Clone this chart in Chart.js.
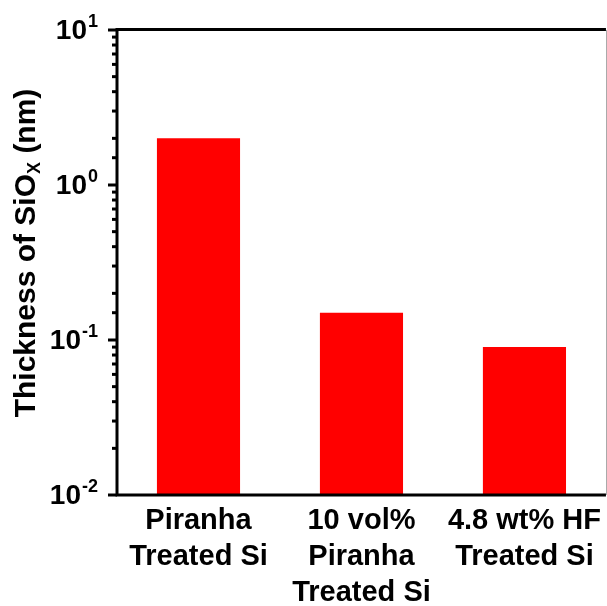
<!DOCTYPE html>
<html>
<head>
<meta charset="utf-8">
<script src="https://cdn.jsdelivr.net/npm/chart.js@4/dist/chart.umd.min.js"></script>
<style>
  body { margin: 0; background: #fff; overflow: hidden; }
  #wrap { width: 609px; height: 606px; position: relative; }
</style>
</head>
<body>
<div id="wrap"><canvas id="graf_oxido"></canvas></div>
<script>
// dados
const categorias = [
  ['Piranha', 'Treated Si'],
  ['10 vol%', 'Piranha', 'Treated Si'],
  ['4.8 wt% HF', 'Treated Si']
]
const espessuras = [2.0, 0.15, 0.09]
const ticks_maiores = [0.01, 0.1, 1, 10]
const expoentes = ['-2', '-1', '0', '1']
const titulo_y = ['Thickness of SiO', 'X', ' (nm)']

const FONTE = "'Liberation Sans', Arial, sans-serif"

// eixos, ticks e titulo desenhados a mao
const eixosPlugin = {
  id: 'eixos',
  afterDraw(chart) {
    const ctx = chart.ctx
    const a = chart.chartArea
    const sy = chart.scales.y
    ctx.save()
    ctx.strokeStyle = '#000'
    ctx.lineWidth = 3
    ctx.lineCap = 'butt'
    ctx.beginPath()
    ctx.moveTo(a.left, a.top - 0.5)
    ctx.lineTo(a.left, a.bottom)
    ctx.moveTo(a.left - 1.5, a.bottom)
    ctx.lineTo(a.right, a.bottom)
    ctx.moveTo(a.left - 1.5, a.top - 0.5)
    ctx.lineTo(a.right, a.top - 0.5)
    ctx.stroke()

    ctx.strokeStyle = '#aaa'
    ctx.lineWidth = 1
    ctx.beginPath()
    ctx.moveTo(606.5, a.top)
    ctx.lineTo(606.5, a.bottom)
    ctx.stroke()

    // ticks
    ctx.strokeStyle = '#000'
    ctx.lineWidth = 3
    sy.ticks.forEach(t => {
      const lg = Math.log10(t.value)
      const maior = Math.abs(lg - Math.round(lg)) < 1e-6
      const y = sy.getPixelForValue(t.value)
      ctx.beginPath()
      ctx.moveTo(a.left - (maior ? 9 : 5), y)
      ctx.lineTo(a.left, y)
      ctx.stroke()
    })

    // rotulos 10^n
    ctx.fillStyle = '#000'
    ticks_maiores.forEach((v, i) => {
      const y = sy.getPixelForValue(v)
      ctx.font = 'bold 18px ' + FONTE
      const we = ctx.measureText(expoentes[i]).width
      ctx.textAlign = 'right'
      ctx.textBaseline = 'middle'
      const xd = 98
      ctx.fillText(expoentes[i], xd, y - 8)
      ctx.font = 'bold 28px ' + FONTE
      ctx.fillText('10', xd - we - 1, y + 1)
    })

    // titulo y
    ctx.translate(24, 253)
    ctx.rotate(-Math.PI / 2)
    ctx.font = 'bold 30px ' + FONTE
    const w0 = ctx.measureText(titulo_y[0]).width
    const w2 = ctx.measureText(titulo_y[2]).width
    ctx.font = 'bold 18px ' + FONTE
    const w1 = ctx.measureText(titulo_y[1]).width
    let x = -(w0 + w1 + w2) / 2
    ctx.textAlign = 'left'
    ctx.textBaseline = 'alphabetic'
    ctx.font = 'bold 30px ' + FONTE
    ctx.fillText(titulo_y[0], x, 11)
    ctx.font = 'bold 18px ' + FONTE
    ctx.fillText(titulo_y[1], x + w0, 16)
    ctx.font = 'bold 30px ' + FONTE
    ctx.fillText(titulo_y[2], x + w0 + w1, 11)
    ctx.restore()
  }
}

let ctx_oxido = document.getElementById('graf_oxido')

let graf_oxido = new Chart(ctx_oxido, {
  type: 'bar',
  data: {
    labels: categorias,
    datasets: [{
      label: 'Thickness',
      data: espessuras,
      backgroundColor: '#ff0000',
      borderWidth: 0,
      categoryPercentage: 1,
      barPercentage: 0.51
    }]
  },
  options: {
    responsive: true,
    maintainAspectRatio: false,
    animation: false,
    devicePixelRatio: 1,
    layout: { padding: { top: 30, right: 0, left: 0, bottom: 0 } },
    plugins: {
      legend: { display: false },
      tooltip: { enabled: false }
    },
    scales: {
      x: {
        grid: { display: false, drawTicks: false },
        border: { display: false },
        ticks: {
          color: '#000',
          font: { family: FONTE, size: 29, weight: 'bold', lineHeight: 1.24 },
          padding: 8,
          maxRotation: 0,
          autoSkip: false
        },
        afterFit: s => { s.height = 111 }
      },
      y: {
        type: 'logarithmic',
        min: 0.01,
        max: 10,
        grid: { display: false, drawTicks: false },
        border: { display: false },
        ticks: { display: false },
        afterFit: s => { s.width = 117 }
      }
    }
  },
  plugins: [eixosPlugin]
});
</script>
</body>
</html>
